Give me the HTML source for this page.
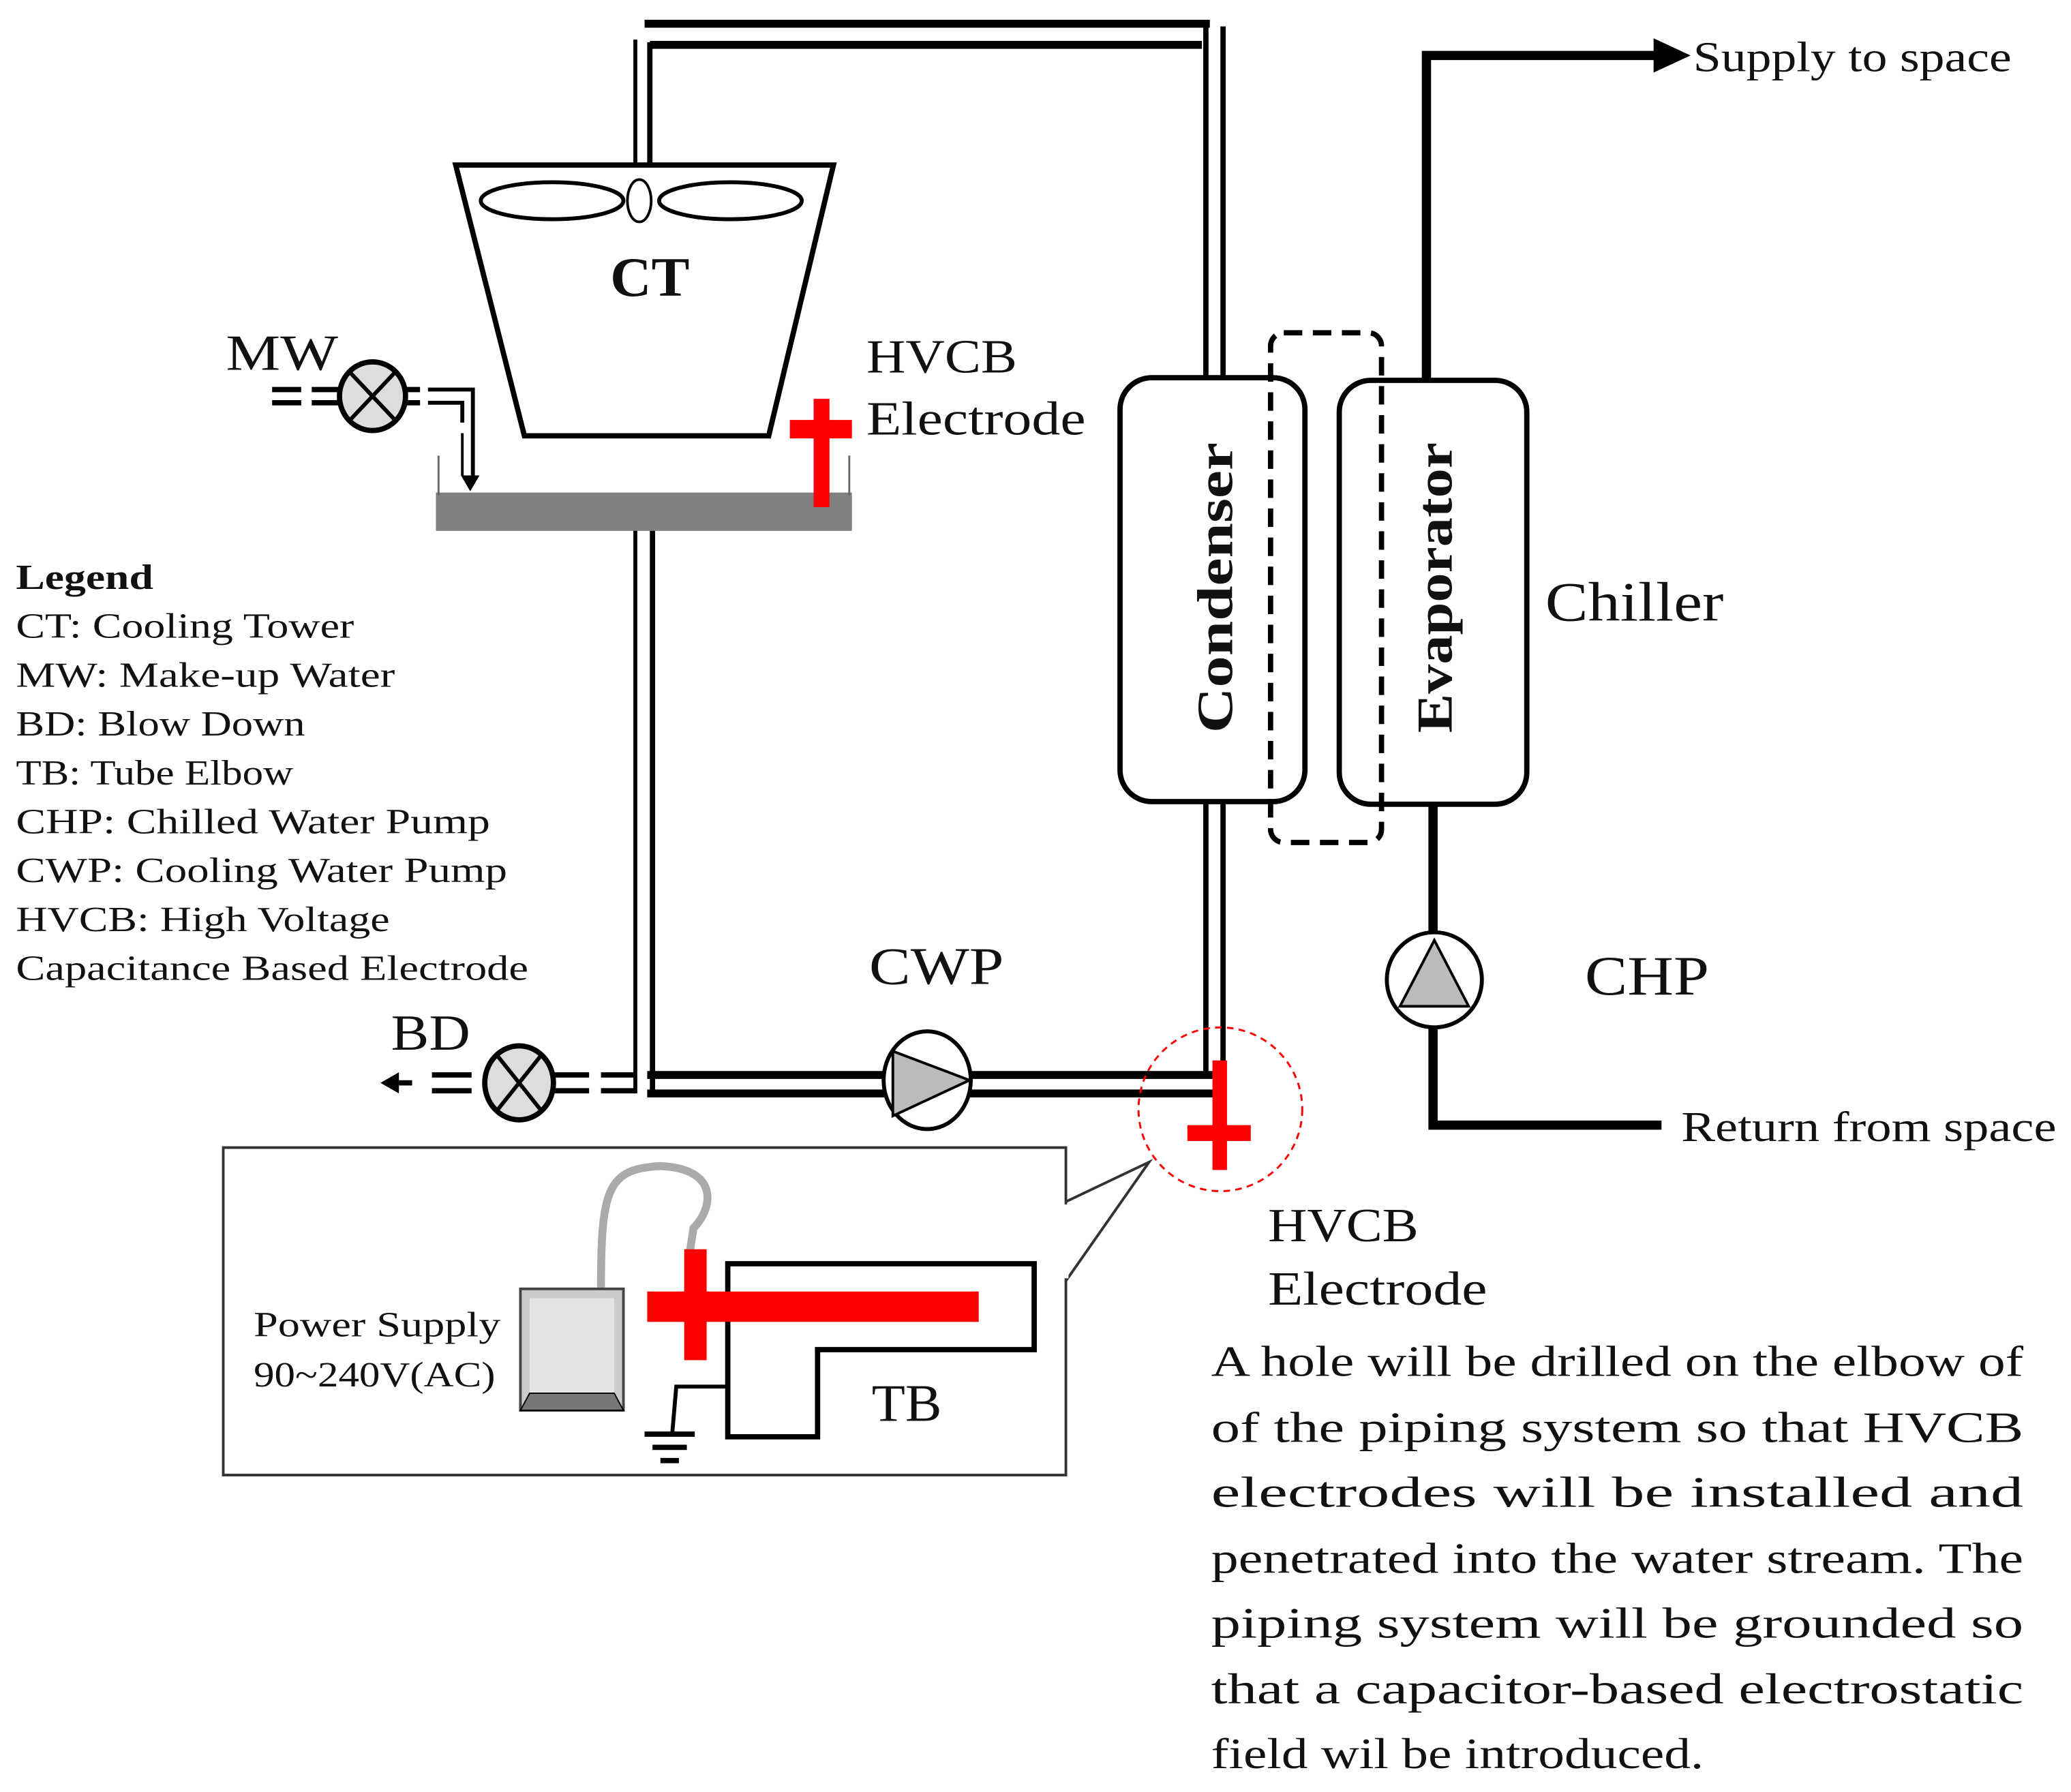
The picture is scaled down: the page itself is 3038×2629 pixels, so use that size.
<!DOCTYPE html>
<html><head><meta charset="utf-8"><style>
html,body{margin:0;padding:0;background:#fff;}
svg{display:block;}
text{font-family:"Liberation Serif",serif;fill:#111;}
</style></head><body>
<svg width="3038" height="2629" viewBox="0 0 1568 1357" xmlns="http://www.w3.org/2000/svg">
<rect width="1568" height="1357" fill="#fff"/>
<g stroke="#000" fill="none">
<line x1="488" y1="18" x2="916" y2="18" stroke-width="6"/>
<line x1="492" y1="34" x2="910" y2="34" stroke-width="6"/>
<line x1="481" y1="30" x2="481" y2="126" stroke-width="3"/>
<line x1="492" y1="32" x2="492" y2="126" stroke-width="4"/>
<line x1="913" y1="16" x2="913" y2="287" stroke-width="4"/>
<line x1="926" y1="20" x2="926" y2="287" stroke-width="4"/>
<line x1="481" y1="385" x2="481" y2="828" stroke-width="3"/>
<line x1="494" y1="385" x2="494" y2="828" stroke-width="4"/>
<line x1="490" y1="814" x2="918" y2="814" stroke-width="6"/>
<line x1="490" y1="828" x2="926" y2="828" stroke-width="6"/>
<line x1="913" y1="607" x2="913" y2="816" stroke-width="4"/>
<line x1="926" y1="607" x2="926" y2="830" stroke-width="4"/>
<rect x="848" y="286" width="140" height="321" rx="24" stroke-width="4"/>
<rect x="1014" y="288" width="142" height="321" rx="24" stroke-width="4"/>
<rect x="962" y="252" width="84" height="386" rx="10" stroke-width="4" stroke-dasharray="14,8"/>
<polyline points="1080,288 1080,42 1255,42" stroke-width="7"/>
<polygon points="1252,29 1280,42 1252,55" fill="#000" stroke="none"/>
<polyline points="1085,609 1085,852 1258,852" stroke-width="7"/>
<circle cx="1086" cy="742" r="36" fill="#fff" stroke-width="3"/>
<polygon points="1086,712 1060,762 1112,762" fill="#bbb" stroke-width="2"/>
<polygon points="345,125 631,125 582,330 397,330" fill="#fff" stroke-width="4"/>
<ellipse cx="418" cy="152" rx="54" ry="14" stroke-width="3"/>
<ellipse cx="553" cy="152" rx="54" ry="14" stroke-width="3"/>
<ellipse cx="484" cy="152" rx="9" ry="16" stroke-width="2" fill="#fff"/>
<rect x="330" y="373" width="315" height="29" fill="#808080" stroke="none"/>
<line x1="332" y1="345" x2="332" y2="375" stroke-width="1.5" stroke="#666"/>
<line x1="643" y1="345" x2="643" y2="375" stroke-width="1.5" stroke="#666"/>
<line x1="206" y1="295" x2="228" y2="295" stroke-width="4"/><line x1="206" y1="305" x2="228" y2="305" stroke-width="4"/>
<line x1="236" y1="295" x2="256" y2="295" stroke-width="4"/><line x1="236" y1="305" x2="256" y2="305" stroke-width="4"/>
<line x1="308" y1="295" x2="318" y2="295" stroke-width="4"/><line x1="308" y1="305" x2="318" y2="305" stroke-width="4"/>
<polyline points="324,295 358,295 358,360" stroke-width="3"/>
<polyline points="324,305 350,305 350,320" stroke-width="3"/>
<line x1="350" y1="328" x2="350" y2="360" stroke-width="2"/>
<polygon points="349,360 363,360 356,372" fill="#000" stroke="none"/>
<ellipse cx="282" cy="300" rx="25" ry="26" fill="#ddd" stroke-width="4"/>
<line x1="265" y1="282" x2="299" y2="318" stroke-width="3"/><line x1="299" y1="282" x2="265" y2="318" stroke-width="3"/>
<polygon points="288,820 302,812 302,828" fill="#000" stroke="none"/>
<line x1="302" y1="820" x2="312" y2="820" stroke-width="4"/>
<line x1="327" y1="814" x2="357" y2="814" stroke-width="4"/><line x1="327" y1="826" x2="357" y2="826" stroke-width="4"/>
<line x1="420" y1="814" x2="446" y2="814" stroke-width="4"/><line x1="420" y1="826" x2="446" y2="826" stroke-width="4"/>
<line x1="455" y1="814" x2="481" y2="814" stroke-width="4"/><line x1="455" y1="826" x2="481" y2="826" stroke-width="4"/>
<ellipse cx="393" cy="820" rx="26" ry="28" fill="#ddd" stroke-width="4"/>
<line x1="377" y1="800" x2="409" y2="840" stroke-width="3"/><line x1="409" y1="800" x2="377" y2="840" stroke-width="3"/>
<ellipse cx="702" cy="818" rx="33" ry="37" fill="#fff" stroke-width="3"/>
<polygon points="676,796 734,818 676,845" fill="#bbb" stroke-width="2"/>
<rect x="169" y="869" width="638" height="248" stroke-width="2" stroke="#333"/>
<polyline points="807,910 870,880 807,970" stroke-width="2" stroke="#333"/>
<line x1="807" y1="912" x2="807" y2="968" stroke="#fff" stroke-width="4"/>
<path d="M455,975 C455,900 460,885 500,883 C545,885 540,915 525,930 L522,950" stroke="#aaa" stroke-width="6"/>
<rect x="394" y="976" width="78" height="92" fill="#ccc" stroke="#444" stroke-width="2"/>
<rect x="401" y="983" width="64" height="72" fill="#e4e4e4" stroke="none"/>
<polygon points="394,1068 472,1068 465,1055 401,1055" fill="#777"/>
<polygon points="551,957 783,957 783,1022 619,1022 619,1088 551,1088" fill="#fff" stroke-width="4"/>
<polyline points="551,1050 512,1050 509,1085" stroke-width="3"/>
<line x1="488" y1="1086" x2="526" y2="1086" stroke-width="4"/>
<line x1="494" y1="1096" x2="520" y2="1096" stroke-width="4"/>
<line x1="500" y1="1106" x2="514" y2="1106" stroke-width="4"/>
</g>
<g fill="#f00">
<rect x="616" y="302" width="12" height="82"/><rect x="598" y="318" width="47" height="14"/>
<rect x="918" y="803" width="11" height="83"/><rect x="899" y="852" width="48" height="12"/>
<rect x="490" y="978" width="251" height="23"/><rect x="518" y="946" width="17" height="84"/>
</g>
<circle cx="924" cy="840" r="62" fill="none" stroke="#f00" stroke-width="1.5" stroke-dasharray="5,4"/>
<g lengthAdjust="spacingAndGlyphs">
<text x="462" y="224" font-size="42" font-weight="bold" textLength="60" lengthAdjust="spacingAndGlyphs">CT</text>
<text x="171" y="280" font-size="38" textLength="85" lengthAdjust="spacingAndGlyphs">MW</text>
<text x="656" y="282" font-size="36" textLength="114" lengthAdjust="spacingAndGlyphs">HVCB</text>
<text x="656" y="329" font-size="36" textLength="166" lengthAdjust="spacingAndGlyphs">Electrode</text>
<text font-size="38" font-weight="bold" transform="translate(933,555) rotate(-90)" textLength="220" lengthAdjust="spacingAndGlyphs">Condenser</text>
<text font-size="38" font-weight="bold" transform="translate(1099,555) rotate(-90)" textLength="220" lengthAdjust="spacingAndGlyphs">Evaporator</text>
<text x="1170" y="470" font-size="42" textLength="135" lengthAdjust="spacingAndGlyphs">Chiller</text>
<text x="1282" y="54" font-size="32" textLength="241" lengthAdjust="spacingAndGlyphs">Supply to space</text>
<text x="1273" y="864" font-size="32" textLength="284" lengthAdjust="spacingAndGlyphs">Return from space</text>
<text x="658" y="745" font-size="40" textLength="102" lengthAdjust="spacingAndGlyphs">CWP</text>
<text x="1200" y="753" font-size="42" textLength="94" lengthAdjust="spacingAndGlyphs">CHP</text>
<text x="296" y="795" font-size="38" textLength="60" lengthAdjust="spacingAndGlyphs">BD</text>
<text x="960" y="940" font-size="36" textLength="114" lengthAdjust="spacingAndGlyphs">HVCB</text>
<text x="960" y="988" font-size="36" textLength="166" lengthAdjust="spacingAndGlyphs">Electrode</text>
<text x="192" y="1012" font-size="27" textLength="187" lengthAdjust="spacingAndGlyphs">Power Supply</text>
<text x="192" y="1050" font-size="27" textLength="183" lengthAdjust="spacingAndGlyphs">90~240V(AC)</text>
<text x="660" y="1076" font-size="40" textLength="53" lengthAdjust="spacingAndGlyphs">TB</text>
</g>
<g font-size="27">
<text x="12" y="446" font-weight="bold" textLength="104" lengthAdjust="spacingAndGlyphs">Legend</text>
<text x="12" y="483" textLength="256" lengthAdjust="spacingAndGlyphs">CT: Cooling Tower</text>
<text x="12" y="520" textLength="287" lengthAdjust="spacingAndGlyphs">MW: Make-up Water</text>
<text x="12" y="557" textLength="219" lengthAdjust="spacingAndGlyphs">BD: Blow Down</text>
<text x="12" y="594" textLength="210" lengthAdjust="spacingAndGlyphs">TB: Tube Elbow</text>
<text x="12" y="631" textLength="359" lengthAdjust="spacingAndGlyphs">CHP: Chilled Water Pump</text>
<text x="12" y="668" textLength="372" lengthAdjust="spacingAndGlyphs">CWP: Cooling Water Pump</text>
<text x="12" y="705" textLength="283" lengthAdjust="spacingAndGlyphs">HVCB: High Voltage</text>
<text x="12" y="742" textLength="388" lengthAdjust="spacingAndGlyphs">Capacitance Based Electrode</text>
</g>
<g font-size="33">
<text x="917" y="1042" textLength="615" lengthAdjust="spacingAndGlyphs">A hole will be drilled on the elbow of</text>
<text x="917" y="1092" textLength="615" lengthAdjust="spacingAndGlyphs">of the piping system so that HVCB</text>
<text x="917" y="1141" textLength="615" lengthAdjust="spacingAndGlyphs">electrodes will be installed and</text>
<text x="917" y="1191" textLength="615" lengthAdjust="spacingAndGlyphs">penetrated into the water stream. The</text>
<text x="917" y="1240" textLength="615" lengthAdjust="spacingAndGlyphs">piping system will be grounded so</text>
<text x="917" y="1290" textLength="615" lengthAdjust="spacingAndGlyphs">that a capacitor-based electrostatic</text>
<text x="917" y="1339" textLength="373" lengthAdjust="spacingAndGlyphs">field wil be introduced.</text>
</g>
</svg>
</body></html>
